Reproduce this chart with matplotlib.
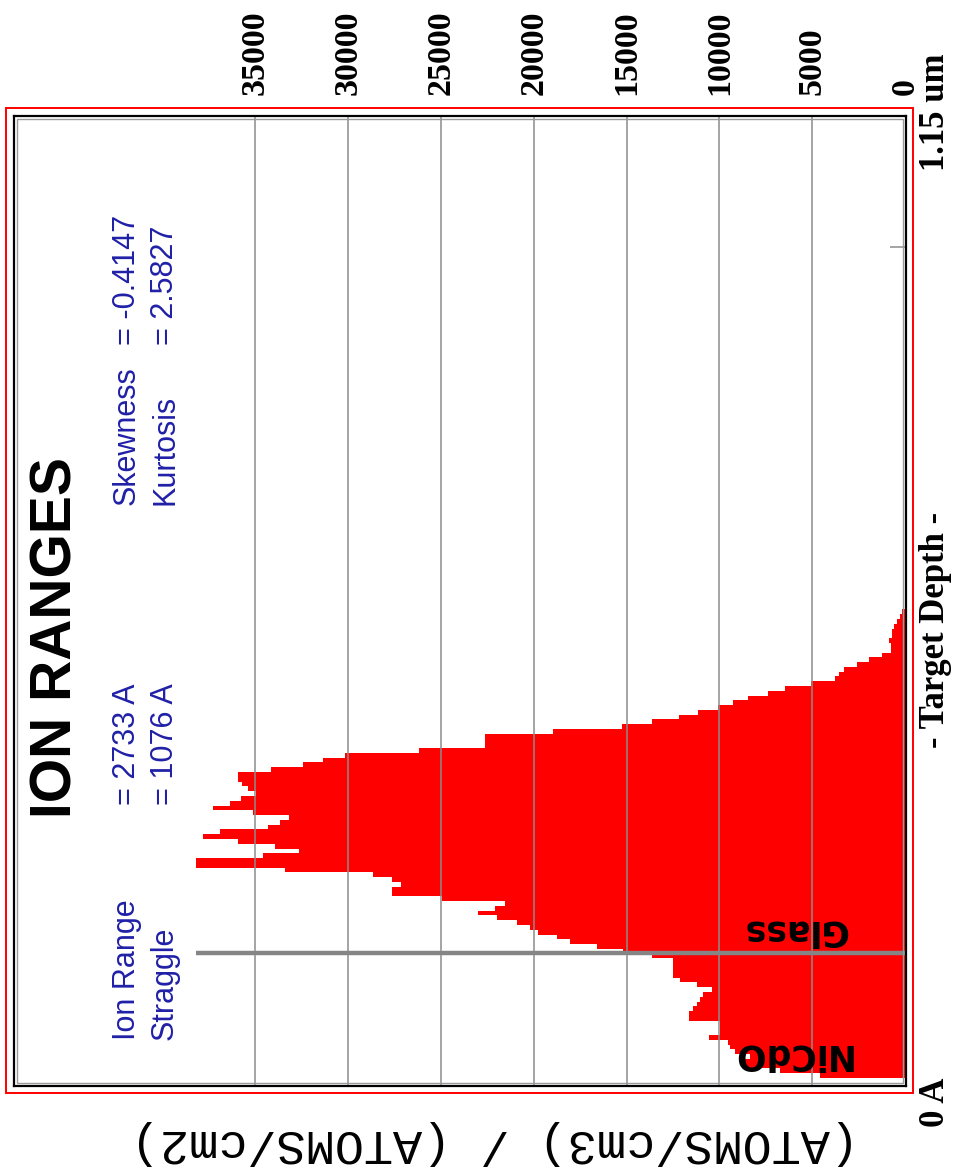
import numpy as np
import matplotlib
matplotlib.use("Agg")
import matplotlib.pyplot as plt
from matplotlib.patches import Rectangle
from matplotlib.transforms import blended_transform_factory

# ---- data -------------------------------------------------------------
bin_width = 57.5  # Angstrom per depth bin
conc = [4580, 6735, 8620, 8620, 8350, 9160, 9430, 9540, 10560, 9970,
        9970, 9970, 11640, 11640, 11420, 11210, 11050, 10880, 10400, 11210,
        12120, 12500, 12500, 12500, 12500, 13630, 15190, 16600, 18050, 18750,
        19770, 20200, 20900, 21980, 23010, 22090, 21550, 24950, 27640, 27640,
        27160, 27640, 28660, 33410, 38200, 38200, 34590, 32650, 33940, 35940,
        37820, 36910, 34320, 33680, 33190, 35130, 37290, 36370, 35780, 34970,
        35400, 35720, 35940, 35940, 34160, 32440, 31360, 30170, 26190, 22630,
        22630, 22630, 18970, 15250, 13630, 12180, 11150, 10080, 9270, 8460,
        7380, 6470, 5060, 3770, 3560, 3290, 2590, 1940, 1240, 750,
        750, 860, 700, 700, 590, 430, 270, 160]
depth = np.arange(len(conc)) * bin_width

layer_boundary = 1500          # Angstrom
layer_names = ["NiCdO", "Glass"]
conc_ticks = [0, 5000, 10000, 15000, 20000, 25000, 30000, 35000]
depth_tick = 10000             # 1 um
stat_names = ["Ion Range", "Straggle", "Skewness", "Kurtosis"]
stat_values = ["= 2733 A", "= 1076 A", "= -0.4147", "= 2.5827"]

# ---- figure -----------------------------------------------------------
W, H, DPI = 955, 1170, 100
fig = plt.figure(figsize=(W / DPI, H / DPI), dpi=DPI, facecolor="white")


def fx(px):
    return px / W


def fy(py):
    return 1 - py / H


ax = fig.add_axes([fx(14), fy(1086), fx(906) - fx(14), fy(116) - fy(1086)])
ax.set_xlim(48000, -50)
ax.set_ylim(-96, 11570)

ax.barh(depth, conc, height=bin_width, align="edge", color="#ff0000",
        linewidth=0, zorder=1)

for v in conc_ticks[1:]:
    ax.axvline(v, color="#8c8c8c", lw=1.1, zorder=2)

ax.plot([0, max(conc)], [layer_boundary, layer_boundary], color="#858585",
        lw=3.2, solid_capstyle="butt", zorder=3)

ax.set_xticks([])
ax.set_yticks([depth_tick])
ax.yaxis.set_ticks_position("right")
ax.tick_params(axis="y", direction="in", length=11.5, width=1.1,
               color="#8c8c8c", labelright=False, labelleft=False)
for s in ax.spines.values():
    s.set_color("black")
    s.set_linewidth(1.6)
ax.add_patch(Rectangle((3 / 892, 3 / 970), 1 - 6 / 892, 1 - 6 / 970,
                       transform=ax.transAxes, fill=False,
                       edgecolor="#9a9a9a", lw=1.0, zorder=4))

# outer red frame
fig.add_artist(Rectangle((fx(6), fy(1093)), fx(913) - fx(6), fy(108) - fy(1093),
                         transform=fig.transFigure, fill=False,
                         edgecolor="#ff0000", lw=1.4))

# layer names, drawn upside down inside each layer
lab_font = dict(family="DejaVu Sans", weight="bold", fontsize=25,
                rotation=180, ha="center", va="center", color="black")
fig.text(fx(790), fy(1055), layer_names[0], **lab_font)
fig.text(fx(795), fy(930), layer_names[1], **lab_font)

# concentration tick labels along the top
tr_top = blended_transform_factory(ax.transData, fig.transFigure)
for v in conc_ticks:
    fig.text(v, fy(95), f"{v}", transform=tr_top, rotation=90,
             ha="center", va="bottom", fontsize=24.5, family="Liberation Serif",
             weight="bold", color="black")

# depth axis labels on the right
serif_b = dict(family="Liberation Serif", weight="bold", fontsize=25,
               rotation=90, color="black", ha="center")
fig.text(fx(935), fy(1078), "0 A", va="top", **serif_b)
fig.text(fx(935), fy(112), "1.15 um", va="center", **serif_b)
fig.text(fx(935), fy(630), "- Target Depth -", va="center", **serif_b)

# concentration axis title
fig.text(fx(495), fy(1143), "(ATOMS/cm3) / (ATOMS/cm2)", rotation=180,
         ha="center", va="center", fontsize=35, family="Liberation Mono",
         color="black")

# title
fig.text(fx(56), fy(638), "ION RANGES", rotation=90, ha="center", va="center",
         fontsize=41, family="Liberation Sans", weight="bold", color="black")

# statistics
blue = "#2020a8"
stat_font = dict(rotation=90, ha="center", va="bottom", fontsize=22,
                 family="Liberation Sans", color=blue)
cols = [127, 165, 127, 165]
name_y = [1040, 1040, 505, 505]
val_y = [805, 805, 345, 345]
for name, val, cx, ny, vy in zip(stat_names, stat_values, cols, name_y, val_y):
    fig.text(fx(cx), fy(ny), name, **stat_font)
    fig.text(fx(cx), fy(vy), val, **stat_font)

fig.savefig("out.png", dpi=DPI, facecolor="white")
